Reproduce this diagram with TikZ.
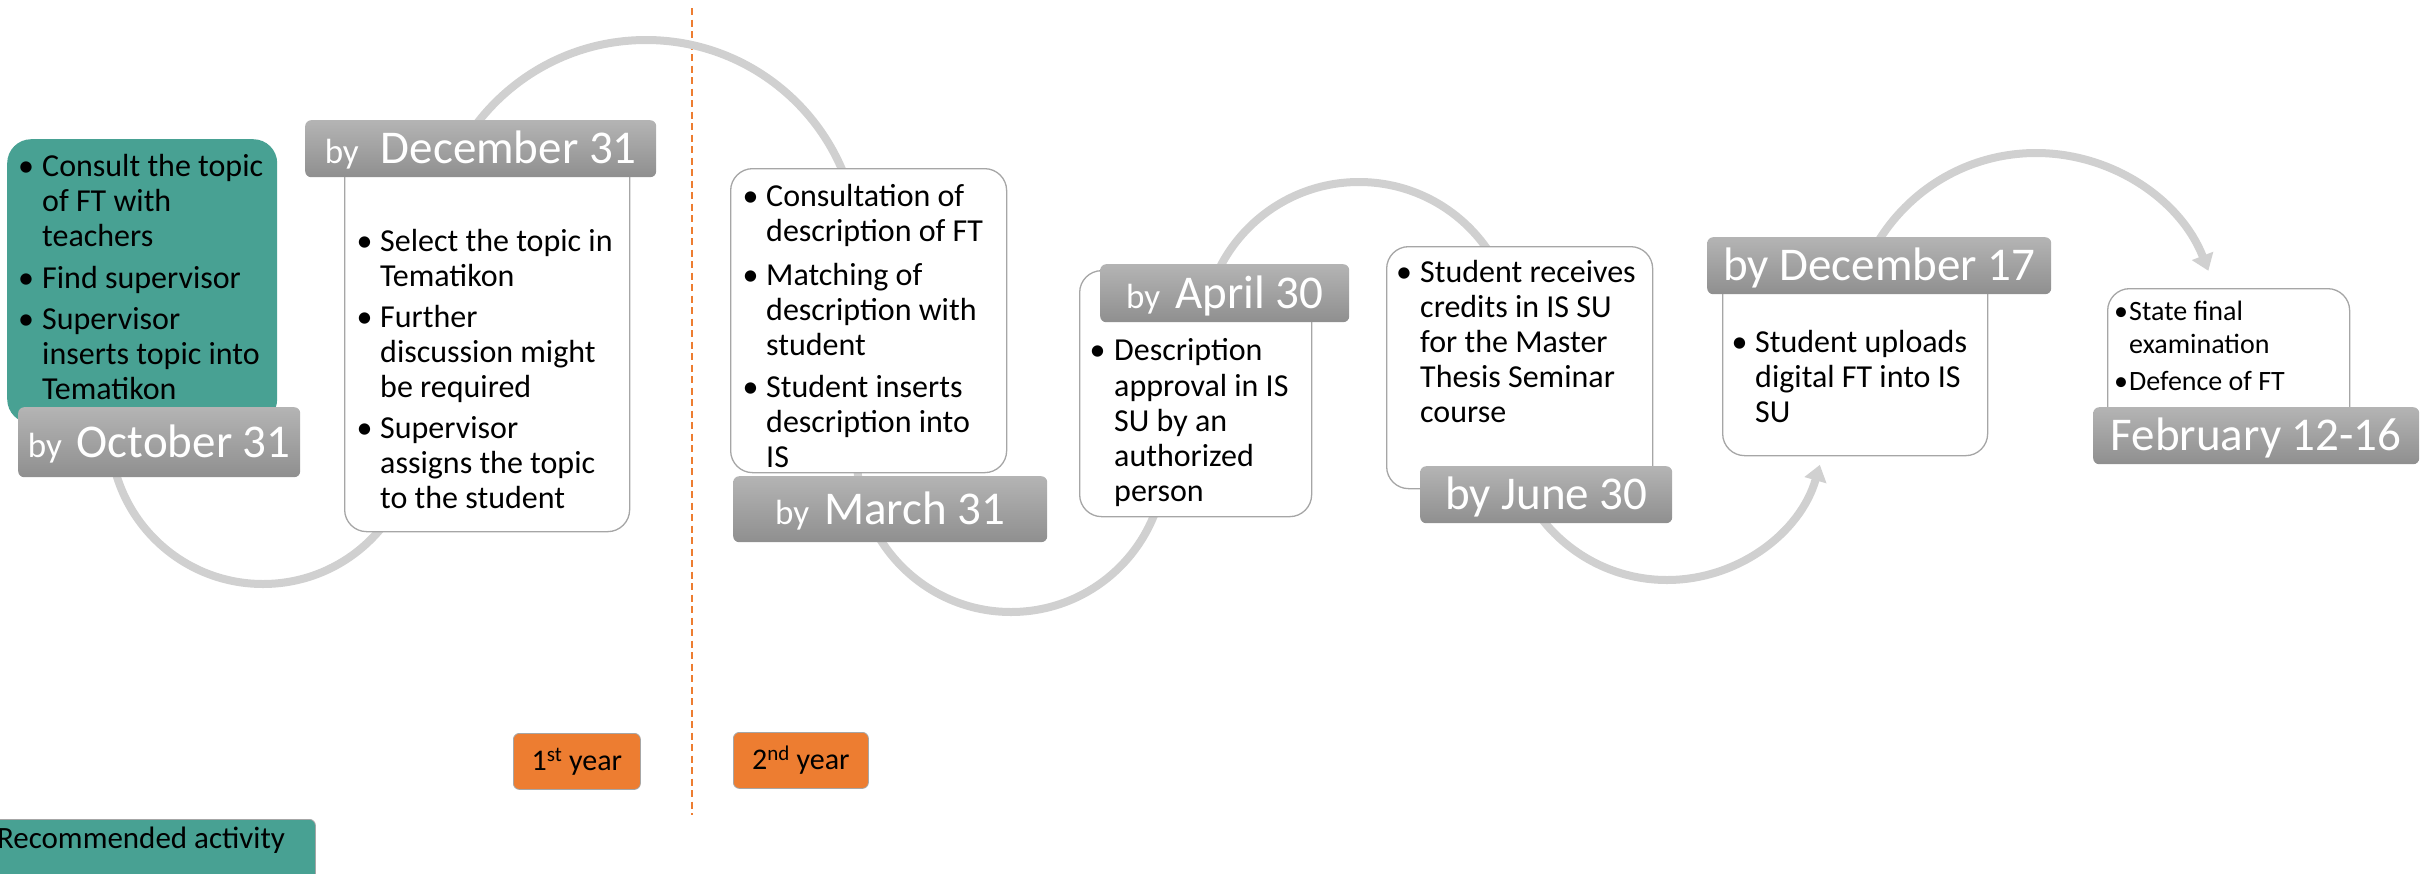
\documentclass[tikz,border=0pt]{standalone}
\usepackage{fontspec}
\setmainfont{Carlito}
\usetikzlibrary{arrows.meta}
\definecolor{tealc}{HTML}{48A193}
\definecolor{orng}{HTML}{ED7D31}
\definecolor{gtop}{HTML}{B4B4B4}
\definecolor{gbot}{HTML}{8F8F8F}
\definecolor{arcgray}{HTML}{D0D0D0}
\definecolor{boxline}{HTML}{A6A6A6}
\newcommand\bodyf{\fontsize{32}{35}\selectfont}
\newcommand\datef{\fontsize{47}{50}\selectfont}
\newcommand\byf{\fontsize{35}{35}\selectfont}
\newcommand\smallf{\fontsize{28}{33}\selectfont}
\newcommand\yearf{\fontsize{30}{33}\selectfont}
\begin{document}
\begin{tikzpicture}[x=1pt,y=-1pt,
  arcline/.style={draw=arcgray, line width=8pt},
  arrowarc/.style={arcline, -{Triangle[width=22pt,length=16pt]}},
  whitebox/.style={draw=boxline, line width=1.3pt, fill=white, rounded corners=22pt, anchor=north west, inner sep=0pt},
  tealbox/.style={draw=none, fill=tealc, rounded corners=24pt, anchor=north west, inner sep=0pt},
  graybox/.style={rounded corners=6pt, top color=gtop, bottom color=gbot, draw=none, text=white, font=\datef, anchor=north west, inner sep=0pt, text height=29.7pt, text depth=0pt},
  yearbox/.style={rounded corners=6pt, fill=orng, draw=boxline, line width=0.8pt, font=\yearf, anchor=north west, inner sep=0pt, text height=19pt, text depth=0pt},
  body/.style={anchor=base west, inner sep=0pt, font=\bodyf},
  bul/.style={anchor=base, inner sep=0pt, font=\bodyf},
  sbody/.style={anchor=base west, inner sep=0pt, font=\smallf},
  sbul/.style={anchor=base, inner sep=0pt, font=\smallf}
]
\useasboundingbox (0,0) rectangle (2425,873);

% year divider
\coordinate (dtop) at (692,8);
\coordinate (dbot) at (692,815);
\draw[orng, line width=2.5pt, dash pattern=on 7.3pt off 4.2pt] (dtop) -- (dbot);

% arcs
\coordinate (c1) at (263,431);
\coordinate (c2) at (646,253);
\coordinate (c3) at (1011,458);
\coordinate (c4) at (1359,338);
\coordinate (c5) at (1667,421);
\coordinate (c6) at (2036,338);
\draw[arcline] (c1) ++(180:153) arc[start angle=180, end angle=0, radius=153];
\draw[arcline] (c2) ++(180:213) arc[start angle=180, end angle=360, radius=213];
\draw[arcline] (c3) ++(180:154) arc[start angle=180, end angle=0, radius=154];
\draw[arcline] (c4) ++(180:156) arc[start angle=180, end angle=360, radius=156];
\draw[arrowarc] (c5) ++(180:159) arc[start angle=180, end angle=16, radius=159];
\draw[arrowarc] (c6) ++(180:185) arc[start angle=180, end angle=338.7, radius=185];

% boxes
\node[tealbox, minimum width=270pt, minimum height=284pt] (octw) at (7,139) {};
\node[graybox, minimum width=282pt, minimum height=70pt] (octg) at (18,407) {{\byf by}\hspace{15pt}October 31};

\node[whitebox, minimum width=285pt, minimum height=381pt] (decw) at (344,150) {};
\node[graybox, minimum width=351pt, minimum height=57pt] (decg) at (305,120) {{\byf by}\hspace{22pt}December 31};

\node[whitebox, minimum width=276pt, minimum height=304pt] (marw) at (730,168) {};
\node[graybox, minimum width=314pt, minimum height=66pt] (marg) at (733,476) {{\byf by}\hspace{15pt}March 31};

\node[whitebox, minimum width=232pt, minimum height=246pt] (aprw) at (1079,270) {};
\node[graybox, minimum width=249pt, minimum height=58pt] (aprg) at (1100,264) {{\byf by}\hspace{15pt}April 30};

\node[whitebox, minimum width=266pt, minimum height=242pt] (junw) at (1386,246) {};
\node[graybox, minimum width=252pt, minimum height=57pt] (jung) at (1420,466) {by June 30};

\node[whitebox, minimum width=265pt, minimum height=195pt] (d17w) at (1722,260) {};
\node[graybox, minimum width=344pt, minimum height=57pt] (d17g) at (1707,237) {by December 17};

\node[whitebox, minimum width=242pt, minimum height=152pt] (febw) at (2107,288) {};
\node[graybox, minimum width=326pt, minimum height=57pt] (febg) at (2093,407) {February 12-16};

% teal box text
\node[bul] (ob1) at (26,176) {•};
\node[body] (ot1) at (42,176) {Consult the topic};
\node[body] (ot2) at (42,211) {of FT with};
\node[body] (ot3) at (42,246) {teachers};
\node[bul] (ob2) at (26,288) {•};
\node[body] (ot4) at (42,288) {Find supervisor};
\node[bul] (ob3) at (26,329) {•};
\node[body] (ot5) at (42,329) {Supervisor};
\node[body] (ot6) at (42,364) {inserts topic into};
\node[body] (ot7) at (42,399) {Tematikon};

% December 31 text
\node[bul] (db1) at (364.5,251) {•};
\node[body] (dt1) at (380,251) {Select the topic in};
\node[body] (dt2) at (380,286) {Tematikon};
\node[bul] (db2) at (364.5,327) {•};
\node[body] (dt3) at (380,327) {Further};
\node[body] (dt4) at (380,362) {discussion might};
\node[body] (dt5) at (380,397) {be required};
\node[bul] (db3) at (364.5,438) {•};
\node[body] (dt6) at (380,438) {Supervisor};
\node[body] (dt7) at (380,473) {assigns the topic};
\node[body] (dt8) at (380,508) {to the student};

% March 31 text
\node[bul] (mb1) at (750.5,206) {•};
\node[body] (mt1) at (766,206) {Consultation of};
\node[body] (mt2) at (766,241) {description of FT};
\node[bul] (mb2) at (750.5,285) {•};
\node[body] (mt3) at (766,285) {Matching of};
\node[body] (mt4) at (766,320) {description with};
\node[body] (mt5) at (766,355) {student};
\node[bul] (mb3) at (750.5,397) {•};
\node[body] (mt6) at (766,397) {Student inserts};
\node[body] (mt7) at (766,432) {description into};
\node[body] (mt8) at (766,467) {IS};

% April 30 text
\node[bul] (ab1) at (1097.5,360) {•};
\node[body] (at1) at (1114,360) {Description};
\node[body] (at2) at (1114,396) {approval in IS};
\node[body] (at3) at (1114,431) {SU by an};
\node[body] (at4) at (1114,466) {authorized};
\node[body] (at5) at (1114,501) {person};

% June 30 text
\node[bul] (jb1) at (1404,282) {•};
\node[body] (jt1) at (1420,282) {Student receives};
\node[body] (jt2) at (1420,317) {credits in IS SU};
\node[body] (jt3) at (1420,352) {for the Master};
\node[body] (jt4) at (1420,387) {Thesis Seminar};
\node[body] (jt5) at (1420,422) {course};

% December 17 text
\node[bul] (eb1) at (1739.5,352) {•};
\node[body] (et1) at (1755,352) {Student uploads};
\node[body] (et2) at (1755,387) {digital FT into IS};
\node[body] (et3) at (1755,422) {SU};

% February text
\node[sbul] (fb1) at (2121,320) {•};
\node[sbody] (ft1) at (2129,320) {State final};
\node[sbody] (ft2) at (2129,353) {examination};
\node[sbul] (fb2) at (2121,390) {•};
\node[sbody] (ft3) at (2129,390) {Defence of FT};

% year labels
\node[yearbox, minimum width=127pt, minimum height=56pt] (y1) at (513,733) {1\textsuperscript{st} year};
\node[yearbox, minimum width=135pt, minimum height=56pt] (y2) at (733,732) {2\textsuperscript{nd} year};

% legend
\node[draw=boxline, line width=0.8pt, fill=tealc, rounded corners=6pt, anchor=north west, inner sep=0pt, minimum width=348pt, minimum height=80pt] (rec) at (-33,819) {};
\node[anchor=base, inner sep=0pt, font=\fontsize{31}{33}\selectfont] (rect) at (141,848) {Recommended activity};
\end{tikzpicture}
\end{document}
